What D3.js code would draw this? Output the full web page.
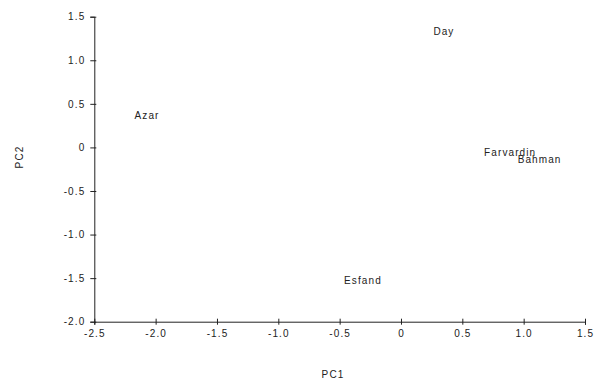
<!DOCTYPE html>
<html>
<head>
<meta charset="utf-8">
<script src="https://cdn.jsdelivr.net/npm/d3@7"></script>
<style>
  body { margin: 0; background: #fff; }
  text { font-family: "Liberation Sans", Arial, sans-serif; fill: #222; letter-spacing: 1.1px; }
</style>
</head>
<body>
<div id="chart"></div>
<script>
const months = ['Azar', 'Day', 'Farvardin', 'Bahman', 'Esfand'];
const pc1 = [-2.07, 0.35, 0.89, 1.13, -0.31];
const pc2 = [0.37, 1.33, -0.06, -0.14, -1.53];
const xTicks = [-2.5, -2.0, -1.5, -1.0, -0.5, 0, 0.5, 1.0, 1.5];
const yTicks = [-2.0, -1.5, -1.0, -0.5, 0, 0.5, 1.0, 1.5];

const width = 594;
const height = 379;

const svg = d3.select('#chart')
    .append('svg')
    .attr('width', width)
    .attr('height', height);

const x = d3.scaleLinear().domain([-2.5, 1.5]).range([94.3, 585]);
const y = d3.scaleLinear().domain([-2.0, 1.5]).range([321.7, 16.7]);

// plain hyphen for negatives, "0" without decimals
const fmt = d => d === 0 ? '0' : d.toFixed(1);

// y axis
const yAxis = svg.append('g')
    .attr('transform', `translate(${x(-2.5)},0)`)
    .call(d3.axisLeft(y).tickValues(yTicks).tickFormat(fmt).tickSize(4).tickPadding(5));
yAxis.selectAll('.tick line').attr('x2', -4).attr('x1', 2);

// x axis
const xAxis = svg.append('g')
    .attr('transform', `translate(0,${y(-2.0)})`)
    .call(d3.axisBottom(x).tickValues(xTicks).tickFormat(fmt).tickSize(3).tickPadding(5));
xAxis.selectAll('.tick line').attr('y1', -3).attr('y2', 3);

svg.selectAll('.domain').attr('stroke', '#222');
svg.selectAll('.tick line').attr('stroke', '#222');
svg.selectAll('.tick text')
    .style('font-size', '10px')
    .attr('fill', '#222');

// axis titles
svg.append('text')
    .attr('x', 333)
    .attr('y', 378)
    .attr('text-anchor', 'middle')
    .style('font-size', '10px')
    .text('PC1');

svg.append('text')
    .attr('transform', 'translate(23,157) rotate(-90)')
    .attr('text-anchor', 'middle')
    .style('font-size', '10px')
    .text('PC2');

// point labels
svg.selectAll('.lbl')
    .data(months)
    .enter().append('text')
    .attr('class', 'lbl')
    .attr('x', (d, i) => x(pc1[i]))
    .attr('y', (d, i) => y(pc2[i]))
    .attr('dy', '0.35em')
    .attr('text-anchor', 'middle')
    .style('font-size', '10px')
    .text(d => d);
</script>
</body>
</html>
